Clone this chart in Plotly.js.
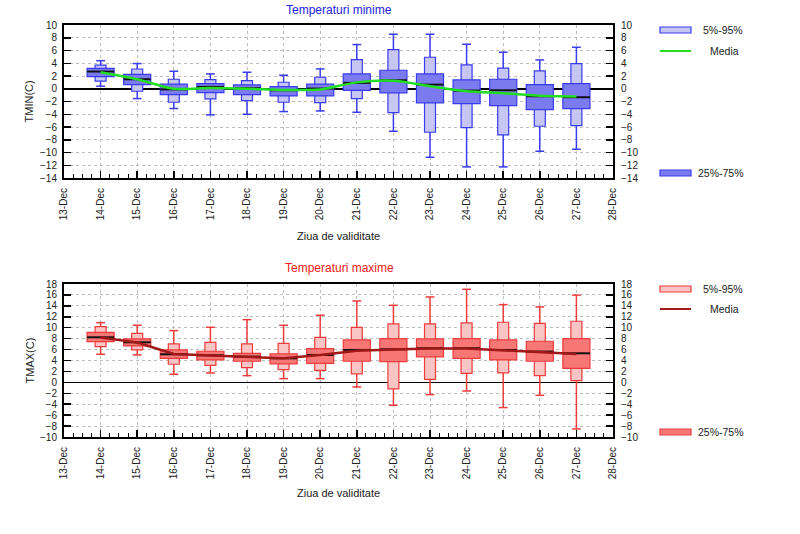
<!DOCTYPE html>
<html>
<head>
<meta charset="utf-8">
<script src="https://cdn.plot.ly/plotly-3.0.1.min.js"></script>
<style>html,body{margin:0;padding:0;background:#fff;}#chart{width:800px;height:534px;}</style>
</head>
<body>
<div id="chart"></div>
<script>
// ---- data ----
var days = [14, 15, 16, 17, 18, 19, 20, 21, 22, 23, 24, 25, 26, 27];
var tickDays = [13, 14, 15, 16, 17, 18, 19, 20, 21, 22, 23, 24, 25, 26, 27, 28];
var tickLabels = tickDays.map(function (d) { return d + "-Dec"; });

var tminMax  = [4.4, 3.95, 2.75, 2.33, 2.59, 2.12, 3.11, 6.93, 8.55, 8.55, 6.98, 5.73, 4.52, 6.51];
var tminP95  = [3.7, 3.1, 1.49, 1.44, 1.28, 1.02, 1.8, 4.58, 6.14, 4.94, 3.74, 3.22, 2.8, 3.95];
var tminP75  = [3.2, 2.27, 0.71, 0.81, 0.6, 0.34, 0.71, 2.33, 2.9, 2.33, 1.39, 1.49, 0.65, 0.81];
var tminMed  = [2.7, 1.49, -0.1, 0.29, 0.08, -0.24, 0.03, 0.92, 1.33, 0.65, -0.29, -0.24, -1.18, -1.33];
var tminP25  = [1.9, 0.65, -0.92, -0.6, -0.92, -1.12, -1.12, -0.24, -0.65, -2.22, -2.33, -2.64, -3.27, -3.11];
var tminP5   = [1.2, -0.39, -2.12, -1.6, -1.86, -2.12, -2.17, -1.54, -3.74, -6.82, -6.1, -7.24, -5.88, -5.78];
var tminMin  = [0.4, -1.54, -3.1, -4.1, -4.0, -3.58, -3.48, -3.69, -6.67, -10.75, -12.26, -12.26, -9.8, -9.49];
var tminMean = [2.6, 1.5, 0.0, 0.1, 0.0, -0.2, -0.1, 1.0, 1.25, 0.4, -0.4, -0.7, -1.1, -1.2];

var tmaxMax  = [10.93, 10.45, 9.47, 10.08, 11.48, 10.45, 12.28, 14.89, 14.1, 15.63, 17.03, 14.23, 13.8, 15.96];
var tmaxP95  = [10.2, 8.98, 7.03, 7.33, 7.03, 7.15, 8.25, 10.08, 10.69, 10.69, 10.87, 11.0, 10.81, 11.18];
var tmaxP75  = [9.16, 7.95, 5.93, 5.69, 5.32, 5.2, 6.17, 7.76, 8.0, 7.95, 8.0, 7.76, 7.52, 8.0];
var tmaxMed  = [8.25, 7.33, 5.14, 4.95, 4.71, 4.4, 5.02, 5.93, 6.05, 6.24, 6.24, 5.93, 5.63, 5.32];
var tmaxP25  = [7.45, 6.66, 4.4, 4.1, 3.86, 3.37, 3.49, 3.86, 3.8, 4.65, 4.4, 4.1, 3.86, 2.57];
var tmaxP5   = [6.54, 5.93, 3.31, 3.12, 2.7, 2.33, 2.21, 1.54, -1.21, 0.56, 1.66, 1.72, 1.23, 0.32];
var tmaxMin  = [5.14, 5.02, 1.48, 1.72, 1.23, 0.68, 0.68, -0.84, -4.2, -2.25, -1.58, -4.62, -2.37, -8.52];
var tmaxMean = [8.2, 7.3, 5.2, 4.9, 4.6, 4.4, 5.0, 5.8, 6.0, 6.2, 6.2, 5.9, 5.6, 5.2];

// ---- styles ----
var FONT = "Liberation Sans, Arial, sans-serif";
var blue = {line: "#3a3aee", wide: "#7b7bef", narrow: "#c6c6f5", mean: "#22dd22", title: "#2222dd"};
var red  = {line: "#ee3c3c", wide: "#f77777", narrow: "#f8c4c4", mean: "#a01818", title: "#ee2020"};
var WIDE = 0.74, NARROW = 0.3, CAP = 0.12;
var GRID = "#bdbdbd";

function diff(a, b) { return a.map(function (v, i) { return v - b[i]; }); }

function segs(xs, y1, y2) {
  var X = [], Y = [];
  xs.forEach(function (d, i) { X.push(d, d, null); Y.push(y1[i], y2[i], null); });
  return {x: X, y: Y};
}
function hsegs(xs, ys, half) {
  var X = [], Y = [];
  xs.forEach(function (d, i) { X.push(d - half, d + half, null); Y.push(ys[i], ys[i], null); });
  return {x: X, y: Y};
}

function panel(xa, ya, ya2, c, mx, p95, p75, med, p25, p5, mn, mean, smooth) {
  var up = segs(days, p95, mx), dn = segs(days, p5, mn);
  var capT = hsegs(days, mx, CAP), capB = hsegs(days, mn, CAP);
  var medL = hsegs(days, med, WIDE / 2);
  var wx = up.x.concat(dn.x, capT.x, capB.x), wy = up.y.concat(dn.y, capT.y, capB.y);
  return [
    {type: "bar", x: days, base: p5, y: diff(p95, p5), width: NARROW, xaxis: xa, yaxis: ya,
     marker: {color: c.narrow, line: {color: c.line, width: 1.2}}, hoverinfo: "skip"},
    {type: "bar", x: days, base: p25, y: diff(p75, p25), width: WIDE, xaxis: xa, yaxis: ya,
     marker: {color: c.wide, line: {color: c.line, width: 1.2}}, hoverinfo: "skip"},
    {type: "scatter", mode: "lines", x: wx, y: wy, xaxis: xa, yaxis: ya,
     line: {color: c.line, width: 1.5}, hoverinfo: "skip"},
    {type: "scatter", mode: "lines", x: medL.x, y: medL.y, xaxis: xa, yaxis: ya,
     line: {color: "#111", width: 2}, hoverinfo: "skip"},
    {type: "scatter", mode: "lines", x: days, y: mean, xaxis: xa, yaxis: ya2,
     line: {color: c.mean, width: 2.5, shape: smooth ? "spline" : "linear", smoothing: 0.8}, hoverinfo: "skip"}
  ];
}

var data = [].concat(
  panel("x", "y", "y2", blue, tminMax, tminP95, tminP75, tminMed, tminP25, tminP5, tminMin, tminMean, true),
  panel("x2", "y3", "y4", red, tmaxMax, tmaxP95, tmaxP75, tmaxMed, tmaxP25, tmaxP5, tmaxMin, tmaxMean, false)
);

function xaxisDef(anchor) {
  return {
    anchor: anchor, domain: [0, 1], range: [13, 28],
    tickmode: "array", tickvals: tickDays, ticktext: tickLabels, tickangle: -90,
    ticks: "inside", ticklen: 7, tickwidth: 1.5, tickcolor: "#000",
    minor: {ticks: "inside", ticklen: 4, tickwidth: 1, tickcolor: "#000", tickmode: "linear", tick0: 13, dtick: 0.25, showgrid: false},
    showgrid: true, gridcolor: GRID, griddash: "dot", gridwidth: 1,
    showline: true, linecolor: "#000", linewidth: 2, mirror: true, zeroline: false,
    tickfont: {family: FONT, size: 10, color: "#222"}, ticklabelstandoff: 4, fixedrange: true
  };
}
function yaxisDef(anchor, domain, range) {
  return {
    anchor: anchor, domain: domain, range: range, tickmode: "linear", dtick: 2,
    ticks: "inside", ticklen: 7, tickwidth: 1.5, tickcolor: "#000",
    showgrid: true, gridcolor: GRID, griddash: "dot", gridwidth: 1,
    showline: true, linecolor: "#000", linewidth: 2, mirror: true,
    zeroline: true, zerolinecolor: "#000", zerolinewidth: 1.5,
    tickfont: {family: FONT, size: 10, color: "#222"}, ticklabelstandoff: 3, fixedrange: true
  };
}
function yRight(over, anchor, range) {
  return {
    overlaying: over, anchor: anchor, side: "right", range: range, tickmode: "linear", dtick: 2,
    ticks: "inside", ticklen: 7, tickwidth: 1.5, tickcolor: "#000",
    showgrid: false, zeroline: false, showline: false,
    tickfont: {family: FONT, size: 10, color: "#222"}, ticklabelstandoff: 7, fixedrange: true
  };
}

// pixel helpers for legend / labels placement (paper coords)
var L = 64, R = 187, T = 25, B = 97, W = 800 - L - R, H = 534 - T - B;
function px(x) { return (x - L) / W; }
function py(y) { return (534 - B - y) / H; }

var shapes = [], annotations = [];
function legend(c, yTop, yMedia, yBot) {
  shapes.push({type: "rect", xref: "paper", yref: "paper", x0: px(660), x1: px(691), y0: py(yTop - 3), y1: py(yTop + 3),
               fillcolor: c.narrow, line: {color: c.line, width: 1.2}});
  shapes.push({type: "line", xref: "paper", yref: "paper", x0: px(660), x1: px(691), y0: py(yMedia), y1: py(yMedia),
               line: {color: c.mean, width: 2}});
  shapes.push({type: "rect", xref: "paper", yref: "paper", x0: px(660), x1: px(691), y0: py(yBot - 3), y1: py(yBot + 3),
               fillcolor: c.wide, line: {color: c.line, width: 1.2}});
  var f = {family: FONT, size: 10.5, color: "#222"};
  annotations.push({xref: "paper", yref: "paper", x: px(701), y: py(yTop), text: "5%-95%", showarrow: false, xanchor: "left", yanchor: "middle", font: f});
  annotations.push({xref: "paper", yref: "paper", x: px(741), y: py(yMedia), text: "Media", showarrow: false, xanchor: "right", yanchor: "middle", font: f});
  annotations.push({xref: "paper", yref: "paper", x: px(696), y: py(yBot), text: "25%-75%", showarrow: false, xanchor: "left", yanchor: "middle", font: f});
}
legend(blue, 30, 51, 173);
legend(red, 289, 309, 432);

function label(text, x, y, size, color, angle) {
  annotations.push({xref: "paper", yref: "paper", x: px(x), y: py(y), text: text, showarrow: false,
                    xanchor: "center", yanchor: "middle", textangle: angle || 0,
                    font: {family: FONT, size: size, color: color}});
}
label("Temperaturi minime", 339, 10, 12, blue.title);
label("Temperaturi maxime", 339, 268, 12, red.title);
label("Ziua de validitate", 338, 236, 11, "#222");
label("Ziua de validitate", 338, 493, 11, "#222");
label("TMIN(C)", 29, 101.5, 11, "#222", -90);
label("TMAX(C)", 29, 360.5, 11, "#222", -90);

var topDom = [1 - 153 / H, 1], botDom = [0, 153 / H];
var layout = {
  width: 800, height: 534, margin: {l: L, r: R, t: T, b: B, pad: 0},
  paper_bgcolor: "#fff", plot_bgcolor: "#fff", showlegend: false, barmode: "overlay",
  font: {family: FONT, size: 10, color: "#222"},
  xaxis: xaxisDef("y"), xaxis2: xaxisDef("y3"),
  yaxis: yaxisDef("x", topDom, [-14, 10]),
  yaxis2: yRight("y", "x", [-14, 10]),
  yaxis3: yaxisDef("x2", botDom, [-10, 18]),
  yaxis4: yRight("y3", "x2", [-10, 18]),
  shapes: shapes, annotations: annotations
};

Plotly.newPlot("chart", data, layout, {staticPlot: true, displayModeBar: false});
</script>
</body>
</html>
